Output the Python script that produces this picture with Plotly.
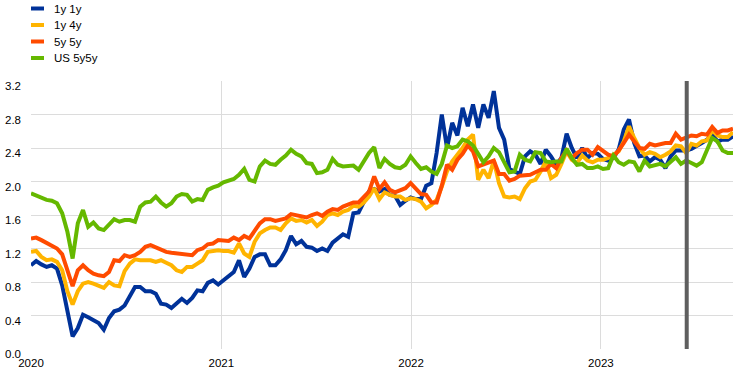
import pandas as pd
import plotly.graph_objects as go

# observation dates (every 10 days)
dates = pd.date_range("2020-01-01", periods=136, freq="10D")

y1y1 = [1.00, 1.05, 1.01, 0.98, 1.00, 0.96, 0.76, 0.43, 0.15, 0.25,
        0.41, 0.38, 0.35, 0.31, 0.23, 0.37, 0.45, 0.47, 0.52, 0.64,
        0.74, 0.74, 0.69, 0.69, 0.66, 0.54, 0.53, 0.49, 0.54, 0.60,
        0.55, 0.61, 0.70, 0.69, 0.79, 0.82, 0.77, 0.82, 0.88, 0.92,
        1.06, 0.86, 0.96, 1.10, 1.13, 1.13, 1.00, 1.00, 1.07, 1.18,
        1.35, 1.25, 1.29, 1.22, 1.21, 1.17, 1.20, 1.17, 1.27, 1.32,
        1.37, 1.34, 1.62, 1.63, 1.75, 1.88, 1.91, 1.88, 1.91, 1.84,
        1.83, 1.72, 1.77, 1.81, 1.79, 1.79, 1.95, 1.98, 2.34, 2.80,
        2.40, 2.70, 2.55, 2.88, 2.66, 2.92, 2.64, 2.92, 2.76, 3.08,
        2.64, 2.50, 2.15, 2.12, 2.09, 2.30, 2.36, 2.32, 2.21, 2.38,
        2.30, 2.20, 2.28, 2.57, 2.40, 2.28, 2.40, 2.28, 2.34, 2.33,
        2.27, 2.25, 2.28, 2.38, 2.62, 2.74, 2.46, 2.30, 2.31, 2.24,
        2.29, 2.26, 2.16, 2.30, 2.37, 2.37, 2.37, 2.39, 2.42, 2.46,
        2.50, 2.56, 2.48, 2.50, 2.50, 2.54]

y1y4 = [1.16, 1.17, 1.10, 1.06, 1.07, 1.04, 0.94, 0.69, 0.53, 0.69,
        0.78, 0.80, 0.78, 0.75, 0.73, 0.80, 0.76, 0.75, 0.93, 1.02,
        1.07, 1.06, 1.06, 1.06, 1.04, 1.06, 1.03, 1.00, 0.94, 0.92,
        0.98, 0.98, 1.02, 1.06, 1.16, 1.17, 1.18, 1.17, 1.17, 1.15,
        1.26, 1.14, 1.10, 1.28, 1.38, 1.42, 1.45, 1.45, 1.42, 1.50,
        1.56, 1.53, 1.54, 1.51, 1.54, 1.47, 1.52, 1.60, 1.62, 1.60,
        1.64, 1.66, 1.71, 1.70, 1.75, 1.82, 1.92, 1.79, 1.87, 1.84,
        1.82, 1.82, 1.78, 1.80, 1.79, 1.76, 1.68, 1.72, 1.78, 1.94,
        2.12, 2.24, 2.32, 2.40, 2.50, 2.56, 2.02, 2.14, 2.04, 2.25,
        1.98, 1.82, 1.81, 1.82, 1.79, 1.92, 2.00, 2.02, 2.12, 2.24,
        2.04, 2.08, 2.21, 2.36, 2.26, 2.22, 2.31, 2.25, 2.23, 2.26,
        2.26, 2.28, 2.32, 2.36, 2.48, 2.66, 2.52, 2.40, 2.32, 2.35,
        2.33, 2.29, 2.32, 2.36, 2.43, 2.42, 2.34, 2.45, 2.43, 2.48,
        2.49, 2.61, 2.55, 2.53, 2.53, 2.59]

y5y5 = [1.32, 1.33, 1.30, 1.27, 1.24, 1.20, 1.13, 0.92, 0.75, 0.94,
        1.00, 0.94, 0.90, 0.88, 0.87, 0.92, 1.06, 1.05, 1.12, 1.10,
        1.12, 1.16, 1.22, 1.24, 1.21, 1.18, 1.16, 1.15, 1.14, 1.13,
        1.12, 1.12, 1.18, 1.20, 1.25, 1.26, 1.30, 1.29, 1.29, 1.33,
        1.30, 1.35, 1.32, 1.41, 1.50, 1.55, 1.55, 1.53, 1.55, 1.56,
        1.61, 1.60, 1.59, 1.57, 1.60, 1.62, 1.59, 1.64, 1.67, 1.66,
        1.70, 1.72, 1.75, 1.75, 1.81, 1.88, 2.06, 1.91, 1.99, 1.90,
        1.87, 1.89, 1.92, 1.98, 1.92, 1.85, 1.84, 1.75, 1.75, 1.95,
        2.20, 2.14, 2.26, 2.33, 2.43, 2.36, 2.18, 2.20, 2.23, 2.25,
        2.09, 2.09, 2.01, 2.03, 2.07, 2.07, 2.08, 2.11, 2.14, 2.14,
        2.21, 2.16, 2.28, 2.37, 2.28, 2.34, 2.38, 2.38, 2.32, 2.41,
        2.37, 2.32, 2.30, 2.37, 2.46, 2.56, 2.48, 2.40, 2.39, 2.45,
        2.43, 2.45, 2.46, 2.46, 2.57, 2.50, 2.53, 2.55, 2.54, 2.57,
        2.56, 2.65, 2.58, 2.61, 2.61, 2.63]

us5y5y = [1.86, 1.83, 1.81, 1.78, 1.77, 1.74, 1.62, 1.40, 1.08, 1.50,
          1.66, 1.46, 1.51, 1.44, 1.42, 1.48, 1.55, 1.52, 1.54, 1.54,
          1.52, 1.70, 1.75, 1.76, 1.82, 1.75, 1.70, 1.74, 1.82, 1.85,
          1.84, 1.76, 1.79, 1.78, 1.90, 1.93, 1.95, 1.99, 2.01, 2.03,
          2.08, 2.15, 2.02, 2.00, 2.18, 2.25, 2.21, 2.20, 2.26, 2.31,
          2.38, 2.33, 2.30, 2.22, 2.21, 2.10, 2.11, 2.14, 2.27, 2.20,
          2.18, 2.19, 2.19, 2.14, 2.24, 2.34, 2.41, 2.16, 2.27, 2.21,
          2.17, 2.16, 2.20, 2.30, 2.22, 2.15, 2.17, 2.12, 2.09, 2.21,
          2.43, 2.40, 2.42, 2.50, 2.48, 2.43, 2.33, 2.23, 2.30, 2.40,
          2.35, 2.24, 2.11, 2.12, 2.32, 2.26, 2.24, 2.35, 2.34, 2.24,
          2.23, 2.24, 2.24, 2.39, 2.28, 2.20, 2.21, 2.16, 2.16, 2.18,
          2.15, 2.16, 2.31, 2.23, 2.20, 2.24, 2.23, 2.12, 2.25, 2.18,
          2.20, 2.21, 2.18, 2.23, 2.29, 2.21, 2.25, 2.22, 2.19, 2.23,
          2.39, 2.52, 2.48, 2.37, 2.34, 2.34]

series_names = ["1y 1y", "1y 4y", "5y 5y", "US 5y5y"]
series_colors = ["#003299", "#FFB400", "#FF4B00", "#65B800"]
year_ticks = ["2020-01-01", "2021-01-01", "2022-01-01", "2023-01-01"]
year_labels = ["2020", "2021", "2022", "2023"]
event_date = "2023-06-15"

FONT = "Liberation Sans, Arial, sans-serif"
W, H = 742, 377
ML, MR, MT, MB = 31, 9, 81, 28
PW, PH = W - ML - MR, H - MT - MB


def px_x(p):
    return (p - ML) / PW


def px_y(p):
    return (H - MB - p) / PH


fig = go.Figure()
for name, vals, col in zip(series_names, [y1y1, y1y4, y5y5, us5y5y], series_colors):
    fig.add_trace(go.Scatter(x=dates, y=vals, name=name, mode="lines",
                             line=dict(color=col, width=4), showlegend=False))

fig.add_shape(type="line", x0=event_date, x1=event_date, xref="x",
              y0=0, y1=1, yref="paper", line=dict(color="#5f5f5f", width=4),
              layer="above")

# custom legend (short thick swatches + labels)
legend_rows = [8.5, 25, 41.5, 58]
for name, col, ry in zip(series_names, series_colors, legend_rows):
    fig.add_shape(type="rect", xref="paper", yref="paper",
                  x0=px_x(31), x1=px_x(44), y0=px_y(ry + 2), y1=px_y(ry - 2),
                  fillcolor=col, line=dict(width=0))
    fig.add_annotation(x=px_x(52), y=px_y(ry), xref="paper", yref="paper",
                       text=name, showarrow=False, xanchor="left", yanchor="middle",
                       font=dict(family=FONT, size=11.5, color="#000000"))

fig.update_layout(
    width=W, height=H,
    margin=dict(l=ML, r=MR, t=MT, b=MB, autoexpand=False),
    paper_bgcolor="white", plot_bgcolor="white",
    font=dict(family=FONT, size=11.5, color="#000000"),
    showlegend=False,
    hovermode=False,
    xaxis=dict(range=[dates[0], dates[-1]], tickvals=year_ticks, ticktext=year_labels,
               showgrid=True, gridcolor="#dcdcdc", gridwidth=1, ticks="",
               showline=False, zeroline=False, automargin=False,
               ticklabelstandoff=5),
    yaxis=dict(range=[0, 3.2], dtick=0.4, tick0=0, tickformat=".1f",
               showgrid=True, gridcolor="#dcdcdc", gridwidth=1, ticks="",
               zeroline=False, showline=False, ticklabelstandoff=9,
               ticklabelshift=5, automargin=False),
)

fig.write_html("out.html", config={"displayModeBar": False},
               post_script="document.body.style.margin='0px';document.body.style.overflow='hidden';")
